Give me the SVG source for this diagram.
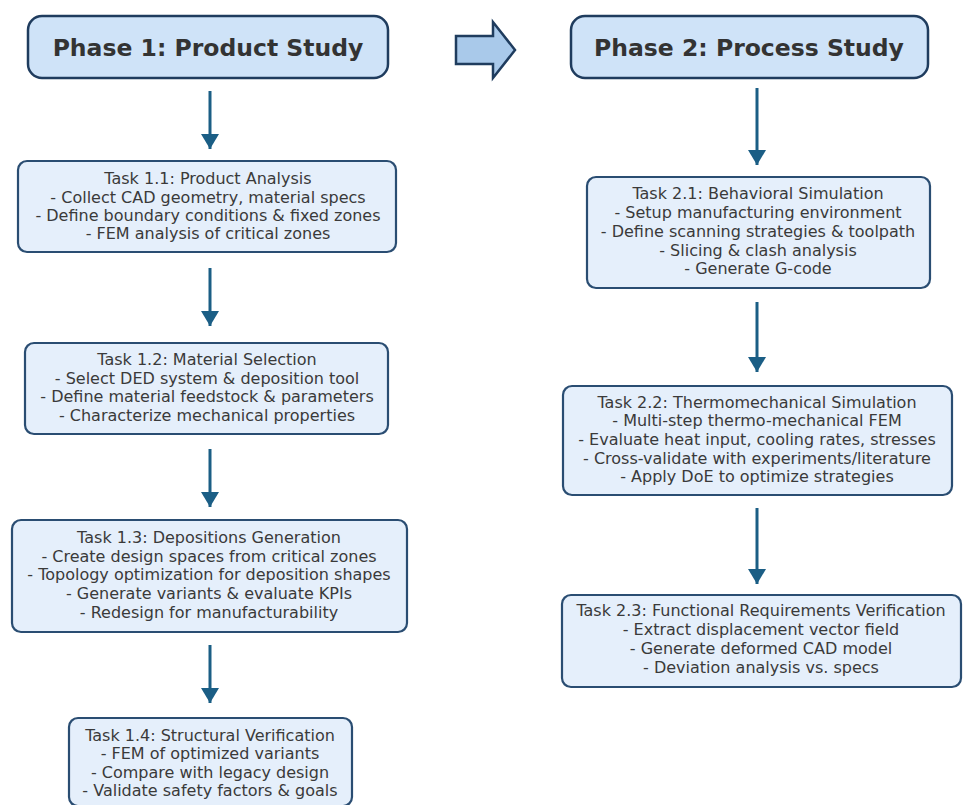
<svg xmlns="http://www.w3.org/2000/svg" width="963" height="805" viewBox="0 0 963 805">
<defs>
<style>
.phase rect{fill:#cfe3f8;stroke:#1f3c5e;stroke-width:2.5}
.phase text{font-family:"DejaVu Sans",sans-serif;font-weight:bold;font-size:23.5px;fill:#333;text-anchor:middle}
.task rect{fill:#e5effb;stroke:#2a4d72;stroke-width:2.2}
.task text{font-family:"DejaVu Sans",sans-serif;font-size:16px;fill:#3a3a3a;text-anchor:middle}
.conn line{stroke:#1b5e85;stroke-width:3}
</style>
<marker id="ah" viewBox="0 0 10 12" preserveAspectRatio="none" refX="10" refY="6" markerWidth="5" markerHeight="6" markerUnits="strokeWidth" orient="auto">
<path d="M0,0 L10,6 L0,12 Z" fill="#1b5e85"/>
</marker>
</defs>
<rect width="963" height="805" fill="#ffffff"/>

<g id="phase1" class="phase">
<rect x="28" y="16" width="360" height="62" rx="14"/>
<text x="208" y="56">Phase 1: Product Study</text>
</g>
<g id="phase2" class="phase">
<rect x="571" y="16" width="357" height="62" rx="14"/>
<text x="749" y="56">Phase 2: Process Study</text>
</g>
<g id="bigarrow">
<path d="M456,36 L493,36 L493,22 L515,50 L493,78 L493,64 L456,64 Z" fill="#a9c9ea" stroke="#1f3c5e" stroke-width="2.5" stroke-linejoin="miter"/>
</g>

<g id="task11" class="task">
<rect x="18" y="161" width="378" height="91" rx="9"/>
<text x="208" y="184">Task 1.1: Product Analysis</text>
<text x="208" y="203">- Collect CAD geometry, material specs</text>
<text x="208" y="221">- Define boundary conditions &amp; fixed zones</text>
<text x="208" y="239">- FEM analysis of critical zones</text>
</g>
<g id="task12" class="task">
<rect x="25" y="343" width="363" height="91" rx="9"/>
<text x="207" y="365">Task 1.2: Material Selection</text>
<text x="207" y="384">- Select DED system &amp; deposition tool</text>
<text x="207" y="402">- Define material feedstock &amp; parameters</text>
<text x="207" y="421">- Characterize mechanical properties</text>
</g>
<g id="task13" class="task">
<rect x="12" y="520" width="395" height="112" rx="9"/>
<text x="209" y="543">Task 1.3: Depositions Generation</text>
<text x="209" y="562">- Create design spaces from critical zones</text>
<text x="209" y="580">- Topology optimization for deposition shapes</text>
<text x="209" y="599">- Generate variants &amp; evaluate KPIs</text>
<text x="209" y="618">- Redesign for manufacturability</text>
</g>
<g id="task14" class="task">
<rect x="69" y="718" width="283" height="88" rx="9"/>
<text x="210" y="741">Task 1.4: Structural Verification</text>
<text x="210" y="759">- FEM of optimized variants</text>
<text x="210" y="778">- Compare with legacy design</text>
<text x="210" y="796">- Validate safety factors &amp; goals</text>
</g>

<g id="task21" class="task">
<rect x="587" y="177" width="343" height="111" rx="9"/>
<text x="758" y="199">Task 2.1: Behavioral Simulation</text>
<text x="758" y="218">- Setup manufacturing environment</text>
<text x="758" y="237">- Define scanning strategies &amp; toolpath</text>
<text x="758" y="256">- Slicing &amp; clash analysis</text>
<text x="758" y="274">- Generate G-code</text>
</g>
<g id="task22" class="task">
<rect x="563" y="386" width="389" height="109" rx="9"/>
<text x="757" y="408">Task 2.2: Thermomechanical Simulation</text>
<text x="757" y="426">- Multi-step thermo-mechanical FEM</text>
<text x="757" y="445">- Evaluate heat input, cooling rates, stresses</text>
<text x="757" y="464">- Cross-validate with experiments/literature</text>
<text x="757" y="482">- Apply DoE to optimize strategies</text>
</g>
<g id="task23" class="task">
<rect x="562" y="595" width="399" height="92" rx="9"/>
<text x="761" y="616">Task 2.3: Functional Requirements Verification</text>
<text x="761" y="635">- Extract displacement vector field</text>
<text x="761" y="654">- Generate deformed CAD model</text>
<text x="761" y="673">- Deviation analysis vs. specs</text>
</g>

<g id="connectors" class="conn">
<line x1="210" y1="91" x2="210" y2="149" marker-end="url(#ah)"/>
<line x1="210" y1="268" x2="210" y2="326" marker-end="url(#ah)"/>
<line x1="210" y1="449" x2="210" y2="507" marker-end="url(#ah)"/>
<line x1="210" y1="645" x2="210" y2="703" marker-end="url(#ah)"/>
<line x1="757" y1="88" x2="757" y2="165" marker-end="url(#ah)"/>
<line x1="757" y1="302" x2="757" y2="372" marker-end="url(#ah)"/>
<line x1="757" y1="508" x2="757" y2="584" marker-end="url(#ah)"/>
</g>
</svg>
